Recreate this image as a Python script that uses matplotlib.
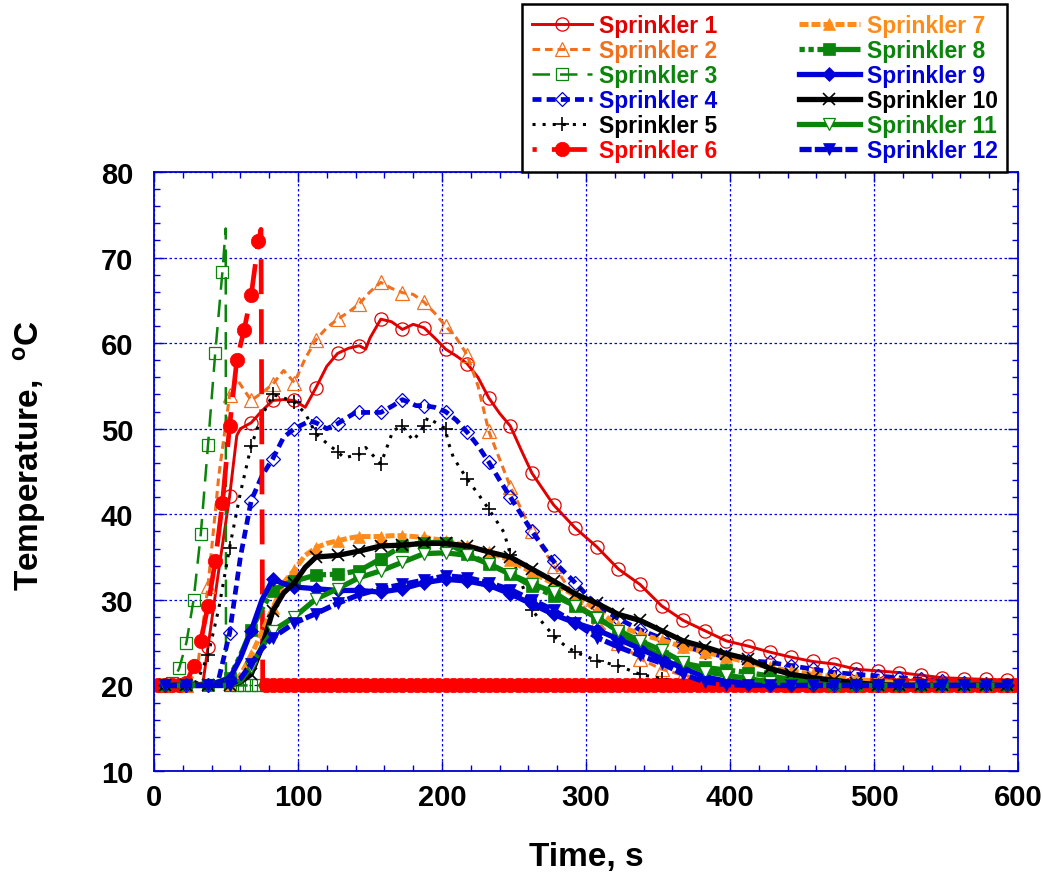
import numpy as np
import matplotlib
matplotlib.use("Agg")
import matplotlib.pyplot as plt
from matplotlib.lines import Line2D
from matplotlib.ticker import MultipleLocator

# ---------------- data ----------------
# marker times (s) shared by the 15-s sampled series
t_grid = [7.5, 22.5, 37.5, 52.5, 67.5, 82.5, 97.5, 112.5, 127.5, 142.5,
          157.5, 172.5, 187.5, 202.5, 217.5, 232.5, 247.5, 262.5, 277.5, 292.5,
          307.5, 322.5, 337.5, 352.5, 367.5, 382.5, 397.5, 412.5, 427.5, 442.5,
          457.5, 472.5, 487.5, 502.5, 517.5, 532.5, 547.5, 562.5, 577.5, 592.5]

s1_T = [20.0, 20.0, 24.5, 42.1, 50.7, 53.3, 53.3, 54.8, 58.8, 59.7,
        62.8, 61.6, 61.8, 59.3, 57.6, 53.6, 50.3, 44.8, 41.1, 38.4,
        36.2, 33.6, 31.8, 29.3, 27.6, 26.4, 25.2, 24.6, 23.9, 23.3,
        22.8, 22.5, 21.9, 21.7, 21.5, 21.2, 20.9, 20.8, 20.7, 20.6]
s1_xt = [34.0, 45.0, 57.5, 60.0, 75.0, 90.0, 105.0, 120.0, 135.0, 147.0, 150.0,
         165.0, 180.0, 195.0, 210.0, 225.0, 240.0, 255.0, 600.0]
s1_xT = [20.3, 33.5, 49.2, 50.0, 52.1, 53.4, 52.5, 57.3, 59.4, 59.3, 60.6,
         62.5, 62.2, 60.6, 58.5, 56.0, 51.8, 47.5, 20.5]

s2_T = [20.0, 20.0, 31.6, 53.9, 53.3, 55.2, 55.4, 60.4, 62.8, 64.6,
        67.1, 65.9, 64.8, 62.0, 58.6, 49.7, 43.2, 38.0, 34.0, 30.3,
        27.4, 25.0, 23.1, 21.9, 21.2, 20.8, 20.5, 20.3, 20.2, 20.1,
        20.0, 20.0, 20.0, 20.0, 20.0, 20.0, 20.0, 20.0, 20.0, 20.0]
s2_xt = [30.0, 45.0, 57.5, 75.0, 90.0, 105.0, 120.0, 135.0, 150.0, 165.0,
         180.0, 195.0, 210.0, 225.0]
s2_xT = [21.8, 44.5, 55.8, 54.2, 56.8, 58.2, 61.8, 63.6, 66.0, 66.4,
         65.7, 63.5, 60.6, 55.0]

s3_t = [2.5, 7.5, 12.5, 17.5, 22.5, 27.5, 32.5, 37.5, 42.5, 47.5,
        52.5, 57.5, 62.5, 67.5, 72.5, 77.5]
s3_T = [20.0, 20.0, 20.3, 22.0, 25.0, 30.0, 37.7, 48.1, 58.8, 68.3,
        20.0, 20.0, 20.0, 20.0, 20.0, 20.0]
s3_xt = [49.8, 50.0, 600.0]
s3_xT = [73.4, 20.0, 20.0]

s4_T = [20.0, 20.0, 20.0, 26.1, 41.6, 46.5, 50.0, 50.7, 50.6, 51.9,
        51.9, 53.4, 52.7, 52.0, 49.6, 46.1, 42.0, 38.0, 34.5, 32.0,
        29.3, 27.8, 26.5, 25.5, 24.6, 23.9, 23.3, 22.9, 22.7, 22.3,
        21.9, 21.5, 21.3, 21.1, 20.9, 20.7, 20.5, 20.3, 20.2, 20.1]
s4_xt = [45.0, 60.0, 75.0, 90.0, 108.0, 120.0, 140.0, 166.0, 182.0, 195.0,
         210.0, 225.0, 240.0, 600.0]
s4_xT = [20.8, 35.0, 44.5, 49.0, 50.9, 50.0, 51.9, 52.7, 52.7, 52.5,
         51.0, 48.0, 44.0, 20.0]

s5_T = [20.0, 20.0, 23.5, 36.1, 48.0, 54.0, 53.1, 49.4, 47.3, 47.0,
        45.9, 50.3, 50.3, 50.0, 44.1, 40.6, 35.3, 28.8, 25.8, 23.9,
        22.9, 22.3, 21.3, 20.8, 20.4, 20.2, 20.1, 20.0, 20.0, 20.0,
        20.0, 20.0, 20.0, 20.0, 20.0, 20.0, 20.0, 20.0, 20.0, 20.0]
s5_xt = [30.0, 45.0, 60.0, 75.0, 90.0, 105.0, 120.0, 132.0, 147.0, 163.0,
         166.0, 180.0, 190.0, 204.0, 208.0, 225.0, 243.0, 255.0, 270.0, 285.0, 300.0]
s5_xT = [20.5, 29.0, 42.5, 51.5, 53.6, 51.8, 48.3, 46.6, 47.8, 48.4,
         49.8, 48.6, 51.3, 48.6, 46.6, 42.4, 37.9, 32.0, 27.3, 24.7, 23.4]

s6_t = [2.5, 7.5, 12.5, 17.5, 22.5, 27.5, 32.5, 37.5, 42.5, 47.5,
        52.5, 57.5, 62.5, 67.5, 72.5]
s6_T = [20.0, 20.0, 20.0, 20.0, 20.3, 22.3, 25.2, 29.3, 34.5, 41.3,
        50.3, 58.0, 61.5, 65.6, 71.9]
s6_flat_t = [77.5, 82.5, 87.5, 92.5, 97.5, 102.5, 107.5, 112.5, 117.5, 122.5,
             127.5, 132.5, 137.5, 142.5, 147.5, 152.5, 157.5, 162.5, 167.5, 172.5,
             177.5, 182.5, 187.5, 192.5, 197.5, 202.5, 207.5, 212.5, 217.5, 222.5,
             227.5, 232.5, 237.5, 242.5, 247.5, 252.5, 257.5, 262.5, 267.5, 272.5,
             277.5, 282.5, 287.5, 292.5, 297.5, 302.5, 307.5, 312.5, 317.5, 322.5,
             327.5, 332.5, 337.5, 342.5, 347.5, 352.5, 357.5, 362.5, 367.5, 372.5,
             377.5, 382.5, 387.5, 392.5, 397.5, 402.5, 407.5, 412.5, 417.5, 422.5,
             427.5, 432.5, 437.5, 442.5, 447.5, 452.5, 457.5, 462.5, 467.5, 472.5,
             477.5, 482.5, 487.5, 492.5, 497.5, 502.5, 507.5, 512.5, 517.5, 522.5,
             527.5, 532.5, 537.5, 542.5, 547.5, 552.5, 557.5, 562.5, 567.5, 572.5,
             577.5, 582.5, 587.5, 592.5, 597.5]
s6_flat_T = [20, 20, 20, 20, 20, 20, 20, 20, 20, 20,
             20, 20, 20, 20, 20, 20, 20, 20, 20, 20,
             20, 20, 20, 20, 20, 20, 20, 20, 20, 20,
             20, 20, 20, 20, 20, 20, 20, 20, 20, 20,
             20, 20, 20, 20, 20, 20, 20, 20, 20, 20,
             20, 20, 20, 20, 20, 20, 20, 20, 20, 20,
             20, 20, 20, 20, 20, 20, 20, 20, 20, 20,
             20, 20, 20, 20, 20, 20, 20, 20, 20, 20,
             20, 20, 20, 20, 20, 20, 20, 20, 20, 20,
             20, 20, 20, 20, 20, 20, 20, 20, 20, 20,
             20, 20, 20, 20, 20]
s6_xt = [74.3, 75.5, 600.0]
s6_xT = [73.3, 20.0, 20.0]

s7_T = [20.0, 20.0, 20.0, 20.2, 23.5, 29.0, 33.5, 36.1, 36.9, 37.4,
        37.4, 37.5, 37.3, 36.9, 36.3, 35.6, 34.6, 33.2, 31.9, 30.5,
        28.8, 27.0, 26.0, 25.3, 24.5, 23.9, 23.3, 22.7, 22.1, 21.7,
        21.3, 21.0, 20.7, 20.5, 20.3, 20.2, 20.1, 20.0, 20.0, 20.0]
s7_xt = [60.0, 75.0, 90.0, 105.0, 120.0, 135.0, 150.0, 165.0, 180.0, 195.0, 210.0, 225.0]
s7_xT = [21.2, 26.3, 32.0, 35.2, 36.6, 37.2, 37.4, 37.5, 37.4, 37.1, 36.6, 36.0]

s8_T = [20.0, 20.0, 20.0, 20.9, 26.5, 31.0, 32.2, 32.9, 33.0, 33.4,
        34.8, 36.3, 36.7, 36.7, 35.4, 34.2, 33.0, 31.6, 30.5, 29.3,
        28.0, 26.3, 24.6, 23.4, 22.6, 22.1, 21.8, 21.5, 21.1, 20.7,
        20.4, 20.2, 20.1, 20.0, 20.0, 20.0, 20.0, 20.0, 20.0, 20.0]
s8_xt = [60.0, 75.0, 90.0]
s8_xT = [23.5, 29.0, 31.8]

s9_T = [20.0, 20.0, 20.0, 20.8, 26.4, 32.4, 31.5, 31.3, 31.1, 31.1,
        30.9, 31.3, 32.0, 32.4, 32.2, 31.7, 30.7, 29.5, 28.3, 27.3,
        26.5, 25.4, 24.3, 23.1, 22.0, 21.0, 20.5, 20.2, 20.0, 20.0,
        20.0, 20.0, 20.0, 20.0, 20.0, 20.0, 20.0, 20.0, 20.0, 20.0]
s9_xt = [60.0, 75.0, 90.0]
s9_xT = [23.2, 30.0, 31.9]

s10_T = [20.0, 20.0, 20.0, 20.0, 21.3, 28.7, 32.0, 35.0, 35.2, 35.7,
         36.3, 36.4, 36.6, 36.6, 36.3, 35.6, 35.0, 33.6, 32.2, 30.7,
         29.6, 28.3, 27.6, 26.4, 25.2, 24.5, 23.7, 23.1, 22.0, 21.3,
         20.9, 20.6, 20.3, 20.1, 20.0, 20.0, 20.0, 20.0, 20.0, 20.0]
s10_xt = [60.0, 75.0, 90.0, 105.0]
s10_xT = [20.4, 24.5, 30.8, 33.8]

s11_T = [20.0, 20.0, 20.0, 20.0, 22.2, 26.4, 28.0, 30.1, 31.3, 32.6,
         33.4, 34.4, 35.4, 35.5, 35.2, 34.2, 33.0, 31.9, 30.9, 29.3,
         27.9, 26.4, 25.2, 24.1, 22.7, 21.6, 21.2, 20.8, 20.4, 20.2,
         20.0, 20.0, 20.0, 20.0, 20.0, 20.0, 20.0, 20.0, 20.0, 20.0]
s11_xt = [60.0, 75.0]
s11_xT = [20.5, 24.5]

s12_T = [20.0, 20.0, 20.0, 20.0, 22.5, 25.6, 27.3, 28.4, 29.6, 30.6,
         31.3, 31.8, 32.3, 32.8, 32.6, 32.0, 31.2, 30.0, 28.8, 27.3,
         25.6, 24.5, 23.5, 22.6, 21.3, 20.4, 20.1, 20.0, 20.0, 20.0,
         20.0, 20.0, 20.0, 20.0, 20.0, 20.0, 20.0, 20.0, 20.0, 20.0]
s12_xt = [60.0, 75.0]
s12_xT = [20.8, 24.3]

labels = ["Sprinkler %d" % i for i in range(1, 13)]
x_ticks = [0, 100, 200, 300, 400, 500, 600]
y_ticks = [10, 20, 30, 40, 50, 60, 70, 80]

# ---------------- styling ----------------
plt.rcParams['font.family'] = ['Liberation Sans', 'DejaVu Sans']
plt.rcParams['font.weight'] = 'bold'
plt.rcParams['mathtext.fontset'] = 'custom'
plt.rcParams['mathtext.rm'] = 'Liberation Sans:bold'
plt.rcParams['mathtext.bf'] = 'Liberation Sans:bold'
plt.rcParams['mathtext.it'] = 'Liberation Sans:bold'

RED1, RED6 = '#e00000', '#ff0000'
ORG2, ORG7 = '#f07020', '#ff8c1a'
GRN, BLU = '#0a840a', '#0000d8'

styles = [
    dict(color=RED1, lw=2.1, ls='-', marker='o', ms=9.5, mfc='none', mec=RED1, mew=0.9),
    dict(color=ORG2, lw=2.2, ls=(0, (2.5, 1.6)), marker='^', ms=9.5, mfc='none', mec=ORG2, mew=0.9),
    dict(color=GRN, lw=1.8, ls=(0, (7, 4)), marker='s', ms=8.5, mfc='none', mec=GRN, mew=0.9),
    dict(color=BLU, lw=3.4, ls=(0, (1.9, 1.1)), marker='D', ms=6.8, mfc='none', mec=BLU, mew=0.9),
    dict(color='black', lw=2.2, ls=(0, (1.0, 2.3)), marker='+', ms=10, mec='black', mew=1.2),
    dict(color=RED6, lw=3.4, ls=(6.5, (7.4, 3.2)), marker='o', ms=10.4, mfc=RED6, mec=RED6, mew=0.5),
    dict(color=ORG7, lw=3.6, ls=(0, (1.8, 0.6)), marker='^', ms=8.5, mfc=ORG7, mec=ORG7, mew=0.5),
    dict(color=GRN, lw=3.8, ls=(0, (1, 0.7, 1, 0.7, 10, 0.7)), marker='s', ms=8.5, mfc=GRN, mec=GRN, mew=0.5),
    dict(color=BLU, lw=3.8, ls='-', marker='D', ms=7.0, mfc=BLU, mec=BLU, mew=0.5),
    dict(color='black', lw=3.8, ls='-', marker='x', ms=8.5, mec='black', mew=1.2),
    dict(color=GRN, lw=3.8, ls='-', marker='v', ms=9.0, mfc='white', mec=GRN, mew=0.9),
    dict(color=BLU, lw=3.8, ls=(0, (2.3, 0.6)), marker='v', ms=8.0, mfc=BLU, mec=BLU, mew=0.5),
]
text_colors = [RED1, ORG2, GRN, BLU, 'black', RED6, ORG7, GRN, BLU, 'black', GRN, BLU]


def build(mt, mT, xt, xT):
    t = np.concatenate([np.asarray(mt, float), np.asarray(xt, float)])
    T = np.concatenate([np.asarray(mT, float), np.asarray(xT, float)])
    is_m = np.concatenate([np.ones(len(mt), bool), np.zeros(len(xt), bool)])
    order = np.argsort(t, kind='stable')
    return t[order], T[order], np.flatnonzero(is_m[order]).tolist()


series = [
    build(t_grid, s1_T, s1_xt, s1_xT),
    build(t_grid, s2_T, s2_xt, s2_xT),
    build(s3_t, s3_T, s3_xt, s3_xT),
    build(t_grid, s4_T, s4_xt, s4_xT),
    build(t_grid, s5_T, s5_xt, s5_xT),
    build(s6_t + s6_flat_t, s6_T + s6_flat_T, s6_xt, s6_xT),
    build(t_grid, s7_T, s7_xt, s7_xT),
    build(t_grid, s8_T, s8_xt, s8_xT),
    build(t_grid, s9_T, s9_xt, s9_xT),
    build(t_grid, s10_T, s10_xt, s10_xT),
    build(t_grid, s11_T, s11_xt, s11_xT),
    build(t_grid, s12_T, s12_xt, s12_xT),
]

fig = plt.figure(figsize=(10.44, 8.78), dpi=100)
fig.patch.set_facecolor('white')
ax = fig.add_axes([154 / 1044, 1 - 772 / 878, 864 / 1044, 599 / 878])

for (t, T, mk), st in zip(series, styles):
    ax.plot(t, T, markevery=mk, dash_capstyle='butt', **st)

ax.set_xlim(0, 600)
ax.set_ylim(10, 80)
ax.set_xticks(x_ticks)
ax.set_yticks(y_ticks)
ax.xaxis.set_minor_locator(MultipleLocator(20))
ax.yaxis.set_minor_locator(MultipleLocator(2))
SP = '#0000cc'
for s in ax.spines.values():
    s.set_color(SP)
    s.set_linewidth(1.3)
ax.tick_params(which='both', direction='in', top=True, right=True, colors=SP,
               labelcolor='black', width=1.0)
ax.tick_params(which='major', length=7)
ax.tick_params(which='minor', length=4)
ax.tick_params(axis='x', which='major', labelsize=21, pad=9)
ax.tick_params(axis='y', which='major', labelsize=21, pad=15)
for lab in ax.get_xticklabels() + ax.get_yticklabels():
    lab.set_fontweight('bold')
ax.grid(True, which='major', color='#0000ff', linestyle=(0, (2, 2)), linewidth=0.9)
ax.set_axisbelow(True)

ax.set_xlabel('Time, s', fontsize=24, fontweight='bold')
ax.xaxis.set_label_coords(0.5, -(858 - 772) / 599)
ax.xaxis.label.set_va('center')
ax.set_ylabel(r'Temperature,  $^{\mathbf{o}}$C', fontsize=24, fontweight='bold')
ax.yaxis.set_label_coords((30 - 154) / 864, (772 - 456) / 599)
ax.yaxis.label.set_va('center')

handles = []
for st in styles:
    handles.append(Line2D([], [], dash_capstyle='butt', **st))
leg = fig.legend(handles, labels, ncol=2, loc='upper left',
                 bbox_to_anchor=(522 / 1044, 1 - 5 / 878), borderaxespad=0,
                 prop=dict(family='Liberation Sans', weight='bold', size=16.5),
                 handlelength=2.65, handletextpad=0.3, columnspacing=3.55,
                 labelspacing=0.09, borderpad=0.42, numpoints=1,
                 fancybox=False, framealpha=1, edgecolor='black')
leg.get_frame().set_linewidth(1.8)
for txt, c in zip(leg.get_texts(), text_colors):
    txt.set_color(c)

fig.savefig('out.png', dpi=100, facecolor='white')
